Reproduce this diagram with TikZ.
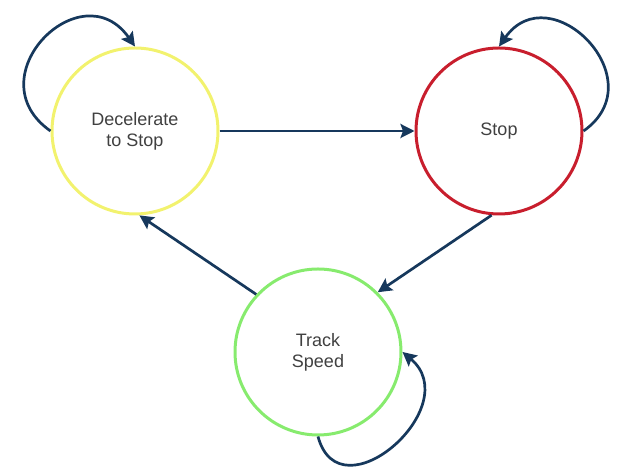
\documentclass[tikz,border=0pt]{standalone}
\usepackage{fontspec}
\setmainfont{Liberation Sans}
\usetikzlibrary{arrows.meta}
\definecolor{lemon}{RGB}{242, 242, 110}
\definecolor{crimson}{RGB}{200, 30, 45}
\definecolor{lime}{RGB}{135, 235, 110}
\definecolor{navyblue}{RGB}{22, 56, 92}
\definecolor{slate}{RGB}{64, 64, 64}

\begin{document}
\begin{tikzpicture}[x=1pt, y=1pt,
        state/.style={circle, line width=3pt, minimum size=166pt, inner sep=0pt,
                      align=center, text=slate, font=\fontsize{18}{21}\selectfont},
        trans/.style={navyblue, line width=2.7pt, -{Stealth[length=14pt, width=14pt, inset=2.5pt]}}]
            % Frame to ensure alignment:
            \useasboundingbox                                   (0, 0) rectangle (633, 473);
            % States
            \node[state, draw=lemon]   (decel) at (135, 342) {Decelerate\\to Stop};
            \node[state, draw=crimson] (stop)  at (499, 342) {Stop};
            \node[state, draw=lime]    (track) at (318, 121) {Track\\Speed};
            % Transitions
            \draw[trans] (decel.east) -- (stop.west);
            \draw[trans] (stop.265)   -- (track.45);
            \draw[trans] (track.137)  -- (decel.273);
            % Self loops
            \draw[trans] (decel.west)  to[out=145, in=125, looseness=2.0] (decel.north);
            \draw[trans] (stop.east)   to[out=35,  in=55,  looseness=1.9] (stop.north);
            \draw[trans] (track.south) to[out=-75, in=-40, looseness=1.8] (track.east);
        \end{tikzpicture}
\end{document}
